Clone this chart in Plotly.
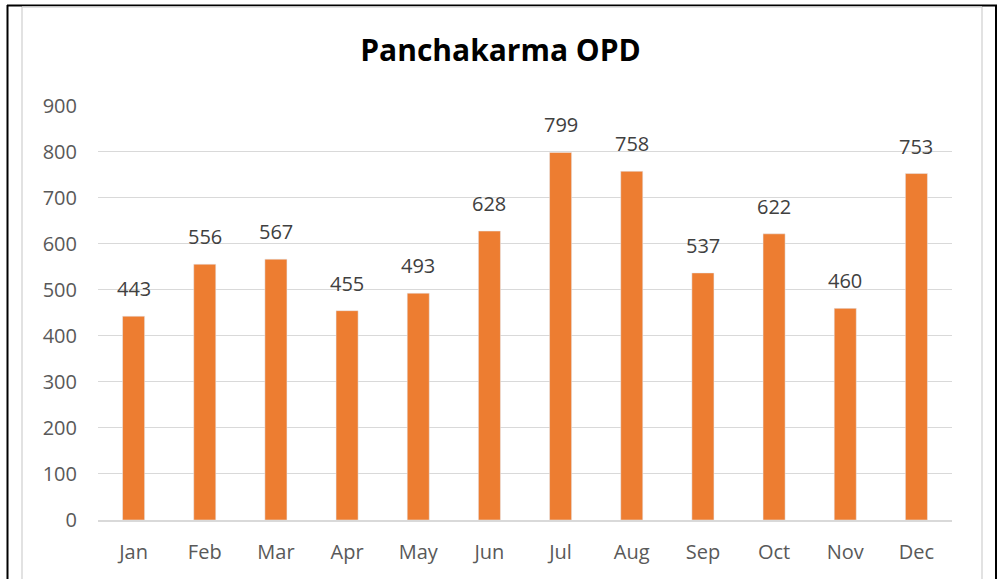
import plotly.graph_objects as go

# data
months = ["Jan", "Feb", "Mar", "Apr", "May", "Jun",
          "Jul", "Aug", "Sep", "Oct", "Nov", "Dec"]
opd = [443, 556, 567, 455, 493, 628, 799, 758, 537, 622, 460, 753]
yticks = [0, 100, 200, 300, 400, 500, 600, 700, 800, 900]

W, H = 1001, 579
L, R, T, B = 98, 952, 105, 520


def px_x(x):
    return (x - L) / (R - L)


def px_y(y):
    return (B - y) / (B - T)


fig = go.Figure(go.Bar(
    x=months,
    y=opd,
    marker_color="#ED7D31",
))

# value labels above the bars
for m, v in zip(months, opd):
    fig.add_annotation(x=m, y=v, text=str(v), showarrow=False,
                       yanchor="bottom", yshift=12,
                       font=dict(size=20, color="#404040"))

shapes = [
    # table borders (black)
    dict(type="line", x0=px_x(7), x1=px_x(997), y0=px_y(5.5), y1=px_y(5.5), line=dict(color="black", width=2)),
    dict(type="line", x0=px_x(7.5), x1=px_x(7.5), y0=px_y(5), y1=px_y(600), line=dict(color="black", width=2)),
    dict(type="line", x0=px_x(996), x1=px_x(996), y0=px_y(5), y1=px_y(600), line=dict(color="black", width=2)),
    # chart area border (grey)
    dict(type="line", x0=px_x(22), x1=px_x(22), y0=px_y(7), y1=px_y(600), line=dict(color="#D9D9D9", width=1.5)),
    dict(type="line", x0=px_x(982), x1=px_x(982), y0=px_y(7), y1=px_y(600), line=dict(color="#D9D9D9", width=1.5)),
    dict(type="line", x0=px_x(22), x1=px_x(982), y0=px_y(7), y1=px_y(7), line=dict(color="#D9D9D9", width=1.5)),
]
for s in shapes:
    s["xref"] = "paper"
    s["yref"] = "paper"
    s["layer"] = "above"

fig.update_layout(
    width=W, height=H,
    margin=dict(l=L, r=W - R, t=T, b=H - B),
    title=dict(text="<b>Panchakarma OPD</b>", x=0.5, xanchor="center",
               y=1 - 50 / H, yanchor="middle",
               font=dict(size=30, color="black", family="Open Sans")),
    font=dict(family="Open Sans", size=20, color="#595959"),
    plot_bgcolor="white",
    paper_bgcolor="white",
    bargap=0.69,
    showlegend=False,
    shapes=shapes,
    xaxis=dict(showline=True, linecolor="#D9D9D9", linewidth=1.5,
               ticks="", ticklabelstandoff=13,
               tickfont=dict(size=20, color="#595959")),
    yaxis=dict(range=[0, 902], tickvals=yticks, showgrid=True,
               gridcolor="#D9D9D9", gridwidth=1.2, zeroline=False,
               ticks="", ticklabelstandoff=20,
               tickfont=dict(size=20, color="#595959")),
)

fig.write_html("out.html", config={"displayModeBar": False},
               post_script="document.body.style.margin='0';")
